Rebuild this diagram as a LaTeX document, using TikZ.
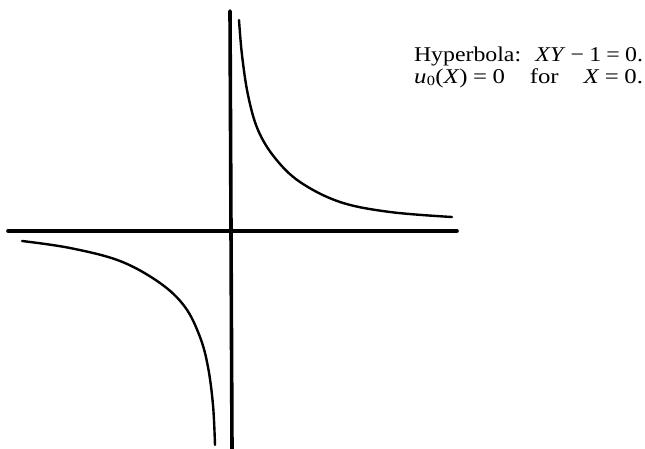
\documentclass[tikz,border=0pt]{standalone}
\usepackage{fontspec}
\setmainfont{Liberation Serif}
\newcommand\opsp{\hspace{0.22em}}
\begin{document}
\begin{tikzpicture}[x=1pt,y=-1pt,
  axisline/.style={line width=3.6pt,line cap=round},
  branch/.style={line width=2.4pt,line cap=round,smooth,tension=0.6},
  lbl/.style={anchor=base west,inner sep=0pt,outer sep=0pt,font=\fontsize{21}{21}\selectfont}]
\useasboundingbox (0,0) rectangle (645,448);
% axes
\coordinate (vtop) at (230,11);
\coordinate (vbot) at (232,449);
\coordinate (hl) at (8,231);
\coordinate (hr) at (457,231);
\draw[axisline] (vtop) -- (vbot);
\draw[axisline] (hl) -- (hr);
% upper-right branch
\draw[branch] plot coordinates {(239,20) (242,55) (248,95) (258,130) (275,158) (300,182) (340,202) (390,212) (452,217)};
% lower-left branch
\draw[branch] plot coordinates {(22,241) (70,248) (120,261) (160,283) (185,307) (200,337) (208,367) (213,405) (215,445)};
% labels
\node[lbl] (line1) at (414,61) {\resizebox{229pt}{\height}{Hyperbola:\hspace{0.6em}\textit{XY}\opsp−\opsp1\opsp=\opsp0.}};
\node[lbl] (line2) at (414,83) {\resizebox{229pt}{\height}{\textit{u}\kern0.5pt\raisebox{-2.5pt}{\fontsize{14}{14}\selectfont 0}(\textit{X})\opsp=\opsp0\hspace{1em}for\hspace{1em}\textit{X}\opsp=\opsp0.}};
\end{tikzpicture}
\end{document}
